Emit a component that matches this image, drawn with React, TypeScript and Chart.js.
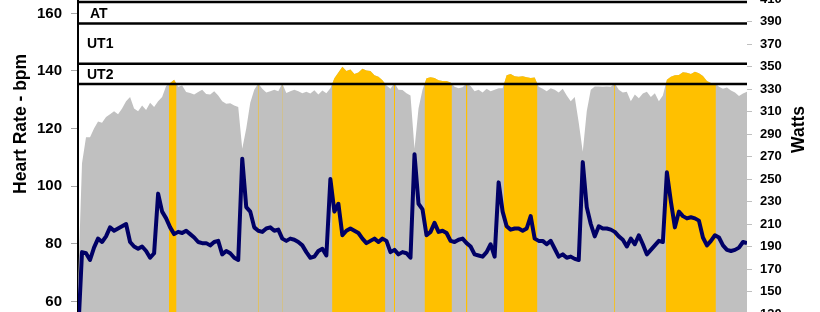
import React, { useEffect, useRef } from 'react';
import { Chart, registerables } from 'chart.js';

Chart.register(...registerables);

// Heart rate samples (bpm), evenly spaced in time
const heartRate = [
  65, 108, 117, 117, 120, 122.5, 122, 124, 125, 126,
  125, 127, 129.5, 131, 127, 126, 128, 126.5, 129, 127.5,
  129.5, 131, 134.8, 135.8, 137, 134.5, 135, 132.7, 132.4, 131.8,
  132.7, 133.5, 132, 131.8, 133, 131.5, 129.5, 128.6, 128.8, 128,
  127.5, 113, 120, 129, 133.5, 135.7, 133.8, 132.5, 133, 133.5,
  133, 135.7, 132.4, 133, 133.5, 133, 132.3, 132.8, 132.2, 133.3,
  131.8, 133.2, 132.3, 134, 137.5, 139.5, 141.5, 140, 140.5, 139,
  139.5, 140.8, 140.2, 140, 138.5, 138, 136.8, 135, 133.8, 135.8,
  133.5, 133.4, 132.3, 131.5, 113, 127, 133.5, 137.5, 137.8, 137.6,
  136.8, 136.5, 136.5, 136, 134.5, 134, 134.4, 135.7, 134.8, 133,
  133.5, 132.5, 133.8, 133, 133.5, 134, 134, 138.5, 139, 138.2,
  138, 138.2, 137.8, 137.6, 137.7, 134.5, 133.8, 133, 134, 133.5,
  132.5, 133.8, 131.5, 129.5, 131, 122, 112, 126, 133.5, 134.6,
  134.6, 134.5, 134.6, 134.5, 135.7, 133.5, 132.5, 132.8, 129.5, 131.8,
  130.5, 132.2, 132.8, 131, 132.3, 129.5, 131.5, 137, 138, 138.5,
  138.6, 139.6, 139.4, 139, 139.7, 139.2, 138.3, 136.5, 135.8, 135.8,
  134.5, 133.8, 134.3, 133.2, 132.5, 131.3, 132.2, 132.8,
];

// Power samples (W), same time base
const watts = [
  110, 185, 184, 178, 189, 197, 194, 199, 207, 204,
  206, 208, 210, 194, 190, 188, 190, 186, 180, 184,
  237, 221, 215, 207, 201, 203, 202, 204, 201, 198,
  194, 193, 193, 191, 194, 195, 183, 186, 184, 180,
  178, 268, 225, 221, 207, 204, 203, 206, 207, 204,
  205, 197, 195, 197, 196, 194, 191, 185, 180, 181,
  186, 188, 182, 250, 221, 228, 200, 204, 206, 204,
  202, 197, 193, 195, 197, 194, 197, 195, 185, 187,
  183, 185, 184, 180, 272, 228, 223, 200, 203, 211,
  203, 204, 202, 195, 194, 196, 197, 193, 190, 183,
  182, 181, 185, 192, 181, 247, 221, 208, 205, 206,
  206, 204, 206, 217, 197, 195, 195, 192, 195, 188,
  181, 183, 180, 181, 179, 178, 265, 225, 210, 199,
  208, 206, 206, 205, 203, 199, 196, 190, 197, 192,
  200, 192, 183, 187, 191, 195, 194, 256, 230, 207,
  221, 217, 215, 216, 215, 213, 198, 191, 195, 200,
  198, 191, 187, 186, 187, 189, 194, 193,
];

// Training zone boundaries (bpm) and names (bottom to top)
const zoneBounds = [135.5, 142.5, 156.5, 164];
const zoneNames = ['UT2', 'UT1', 'AT'];

const hrTicks = [40, 60, 80, 100, 120, 140, 160];
const wattTicks = [90, 110, 130, 150, 170, 190, 210, 230, 250, 270, 290, 310, 330, 350, 370, 390, 410];

const hrTitle = 'Heart Rate - bpm';
const wattTitle = 'Watts';

const FONT = "'Liberation Sans', Arial, sans-serif";
const CROP_TOP = 21.4;
const CANVAS_W = 820;
const CANVAS_H = 400;

function buildAboveThreshold(values: number[], thr: number) {
  const pts: { x: number; y: number | null }[] = [];
  for (let i = 0; i < values.length; i++) {
    const v = values[i];
    const prev = i > 0 ? values[i - 1] : null;
    if (v > thr) {
      if (prev !== null && prev <= thr) {
        pts.push({ x: i - 1 + (thr - prev) / (v - prev), y: thr });
      }
      pts.push({ x: i, y: v });
    } else if (prev !== null && prev > thr) {
      const xc = i - 1 + (prev - thr) / (prev - v);
      pts.push({ x: xc, y: thr });
      pts.push({ x: xc, y: null });
    }
  }
  return pts;
}

const textPlugin = {
  id: 'textPlugin',
  afterDraw(chart: any) {
    const ctx = chart.ctx;
    const y = chart.scales.y;
    const left = chart.chartArea.left;
    ctx.save();
    ctx.fillStyle = '#000';
    // zone labels
    ctx.font = `bold 14px ${FONT}`;
    ctx.textBaseline = 'middle';
    ctx.textAlign = 'left';
    zoneNames.forEach((name, k) => {
      const mid = (zoneBounds[k] + zoneBounds[k + 1]) / 2;
      const py = y.getPixelForValue(mid) + 1;
      ctx.fillText(name, left + (name === 'AT' ? 12 : 9), py);
    });
    // axis titles
    ctx.font = `bold 17.5px ${FONT}`;
    ctx.textAlign = 'center';
    ctx.save();
    ctx.translate(21.5, 123.5 + CROP_TOP);
    ctx.rotate(-Math.PI / 2);
    ctx.fillText(hrTitle, 0, 0);
    ctx.restore();
    ctx.save();
    ctx.translate(799.5, 129 + CROP_TOP);
    ctx.rotate(-Math.PI / 2);
    ctx.fillText(wattTitle, 0, 0);
    ctx.restore();
    ctx.restore();
  },
};

export default function App() {
  const ref = useRef<HTMLCanvasElement | null>(null);

  useEffect(() => {
    if (!ref.current) return;
    const n = heartRate.length;
    const zoneLineSets = zoneBounds.map((b) => ({
      type: 'line' as const,
      data: [
        { x: 0, y: b },
        { x: n - 1, y: b },
      ],
      yAxisID: 'y',
      borderColor: '#000000',
      borderWidth: 2.5,
      pointRadius: 0,
      fill: false,
      order: 0,
    }));
    const chart = new Chart(ref.current, {
      type: 'line',
      data: {
        datasets: [
          ...zoneLineSets,
          {
            data: watts.map((v, i) => ({ x: i, y: v })),
            yAxisID: 'w',
            borderColor: '#000066',
            borderWidth: 4,
            pointRadius: 0,
            fill: false,
            order: 1,
            borderJoinStyle: 'round',
          },
          {
            data: buildAboveThreshold(heartRate, zoneBounds[0]),
            yAxisID: 'y',
            borderWidth: 0,
            borderColor: 'rgba(0,0,0,0)',
            backgroundColor: '#FFC000',
            pointRadius: 0,
            fill: 'origin',
            spanGaps: false,
            order: 2,
          },
          {
            data: heartRate.map((v, i) => ({ x: i, y: v })),
            yAxisID: 'y',
            borderWidth: 0,
            borderColor: 'rgba(0,0,0,0)',
            backgroundColor: '#C0C0C0',
            pointRadius: 0,
            fill: 'origin',
            order: 3,
          },
        ] as any,
      },
      options: {
        responsive: false,
        animation: false,
        devicePixelRatio: 1,
        events: [],
        layout: { padding: { top: 20, bottom: 20, left: 0, right: 0 } },
        plugins: { legend: { display: false }, tooltip: { enabled: false } },
        scales: {
          x: { type: 'linear', min: 0, max: n - 1, display: false },
          y: {
            type: 'linear',
            position: 'left',
            min: 40,
            max: 165,
            afterBuildTicks: (s: any) => {
              s.ticks = hrTicks.map((v) => ({ value: v }));
            },
            afterFit: (s: any) => {
              s.width = 78;
            },
            border: { display: true, color: '#000000', width: 2 },
            grid: { drawOnChartArea: false, drawTicks: true, tickLength: 7, tickColor: '#a6a6a6', color: '#a6a6a6' },
            ticks: { color: '#000', padding: 9, font: { family: FONT, size: 15, weight: 'bold' } },
          },
          w: {
            type: 'linear',
            position: 'right',
            min: 90,
            max: 410,
            afterBuildTicks: (s: any) => {
              s.ticks = wattTicks.map((v) => ({ value: v }));
            },
            afterFit: (s: any) => {
              s.width = 73;
            },
            border: { display: false },
            grid: { drawOnChartArea: false, drawTicks: true, tickLength: 5, tickColor: '#bfbfbf', color: '#bfbfbf' },
            ticks: { color: '#000', padding: 8, font: { family: FONT, size: 13, weight: 'bold' } },
          },
        },
      } as any,
      plugins: [textPlugin],
    });
    return () => chart.destroy();
  }, []);

  return (
    <div style={{ position: 'fixed', left: 0, top: 0, width: 820, height: 312, overflow: 'hidden', background: '#fff' }}>
      <canvas
        ref={ref}
        width={CANVAS_W}
        height={CANVAS_H}
        style={{ position: 'absolute', left: 0, top: -CROP_TOP, width: CANVAS_W, height: CANVAS_H, display: 'block' }}
      />
    </div>
  );
}
